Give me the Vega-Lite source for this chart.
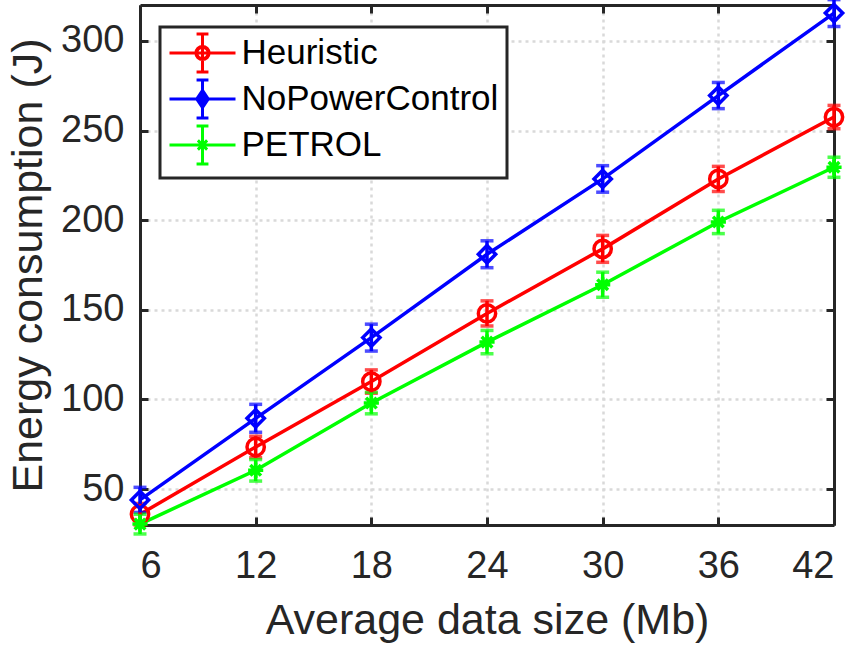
{
  "$schema": "https://vega.github.io/schema/vega-lite/v6.json",
  "width": 694,
  "height": 520,
  "autosize": "none",
  "padding": {"left": 140, "top": 5, "right": 24, "bottom": 122},
  "background": "white",
  "config": {
    "view": {"stroke": null},
    "font": "Liberation Sans",
    "axis": {
      "labelFont": "Liberation Sans",
      "titleFont": "Liberation Sans",
      "labelColor": "#262626",
      "titleColor": "#262626",
      "domainColor": "#262626",
      "tickColor": "#262626",
      "domainWidth": 3,
      "tickWidth": 3,
      "tickSize": -8,
      "gridColor": "#d9d9d9",
      "gridDash": [3, 4],
      "gridWidth": 2.5,
      "labelFontSize": 38,
      "titleFontSize": 43,
      "titleFontWeight": "normal"
    }
  },
  "data": {
    "values": [
      {"x": 6, "series": "Heuristic", "y": 36, "err": 6},
      {"x": 12, "series": "Heuristic", "y": 73.5, "err": 6},
      {"x": 18, "series": "Heuristic", "y": 110, "err": 6.5},
      {"x": 24, "series": "Heuristic", "y": 148, "err": 7},
      {"x": 30, "series": "Heuristic", "y": 184, "err": 7.5},
      {"x": 36, "series": "Heuristic", "y": 223, "err": 7},
      {"x": 42, "series": "Heuristic", "y": 257.5, "err": 6.5},
      {"x": 6, "series": "NoPowerControl", "y": 44, "err": 7},
      {"x": 12, "series": "NoPowerControl", "y": 89.5, "err": 7.8},
      {"x": 18, "series": "NoPowerControl", "y": 134.5, "err": 7.5},
      {"x": 24, "series": "NoPowerControl", "y": 181, "err": 7.5},
      {"x": 30, "series": "NoPowerControl", "y": 223, "err": 7.4},
      {"x": 36, "series": "NoPowerControl", "y": 269.5, "err": 7.3},
      {"x": 42, "series": "NoPowerControl", "y": 315.5, "err": 7.5},
      {"x": 6, "series": "PETROL", "y": 30.5, "err": 5.5},
      {"x": 12, "series": "PETROL", "y": 60.5, "err": 6},
      {"x": 18, "series": "PETROL", "y": 98, "err": 6},
      {"x": 24, "series": "PETROL", "y": 132, "err": 6.5},
      {"x": 30, "series": "PETROL", "y": 164, "err": 7},
      {"x": 36, "series": "PETROL", "y": 199, "err": 6.5},
      {"x": 42, "series": "PETROL", "y": 229.5, "err": 5.6}
    ]
  },
  "encoding": {
    "x": {"field": "x", "type": "quantitative", "scale": {"domain": [6, 42], "nice": false, "zero": false}, "axis": null},
    "y": {"field": "y", "type": "quantitative", "scale": {"domain": [30, 320], "nice": false, "zero": false}, "axis": null},
    "color": {
      "field": "series",
      "type": "nominal",
      "scale": {"domain": ["Heuristic", "NoPowerControl", "PETROL"], "range": ["#ff0000", "#0000ff", "#00ff00"]},
      "legend": {
        "orient": "none",
        "legendX": 20,
        "legendY": 22,
        "title": null,
        "symbolSize": 1089,
        "symbolOffset": 16.5,
        "labelOffset": 21,
        "labelLimit": 0,
        "labelFont": "Liberation Sans",
        "labelFontSize": 35,
        "labelColor": "black",
        "padding": 8,
        "rowPadding": -4,
        "strokeColor": "#262626",
        "fillColor": "white",
        "symbolStrokeWidth": 3,
        "symbolFillColor": "transparent",
        "encode": {"legend": {"update": {"strokeWidth": {"value": 3}}}}
      }
    }
  },
  "layer": [
    {
      "transform": [{"filter": "false"}],
      "mark": {"type": "point", "filled": false, "strokeWidth": 3},
      "encoding": {
        "shape": {
          "field": "series", "type": "nominal",
          "scale": {"domain": ["Heuristic", "NoPowerControl", "PETROL"], "range": [
            "M-2,0L2,0M0,-1.15L0,1.15M-0.36,-1.15L0.36,-1.15M-0.36,1.15L0.36,1.15M0.4,0A0.4,0.4,0,1,1,-0.4,0A0.4,0.4,0,1,1,0.4,0ZM0.34,0A0.34,0.34,0,1,0,-0.34,0A0.34,0.34,0,1,0,0.34,0Z",
            "M-2,0L2,0M0,-1.15L0,1.15M-0.36,-1.15L0.36,-1.15M-0.36,1.15L0.36,1.15M0,-0.52L0.35,0L0,0.52L-0.35,0Z",
            "M-2,0L2,0M0,-1.15L0,1.15M-0.36,-1.15L0.36,-1.15M-0.36,1.15L0.36,1.15M-0.28,-0.28L0.28,0.28M-0.28,0.28L0.28,-0.28M-0.36,0L0.36,0M0,-0.36L0,0.36"
          ]},
          "legend": null
        }
      }
    },
    {
      "mark": {"type": "line", "strokeWidth": 3.5},
      "encoding": {
        "x": {
          "field": "x", "type": "quantitative",
          "axis": {"orient": "bottom", "values": [6, 12, 18, 24, 30, 36, 42], "title": "Average data size (Mb)", "labelPadding": 30, "titlePadding": 14, "grid": true}
        },
        "y": {
          "field": "y", "type": "quantitative",
          "axis": {"orient": "left", "values": [50, 100, 150, 200, 250, 300], "title": "Energy consumption (J)", "labelPadding": 24, "titlePadding": 10, "grid": true}
        }
      }
    },
    {
      "mark": {"type": "errorbar", "ticks": {"size": 13}, "thickness": 3.5},
      "encoding": {
        "yError": {"field": "err"}
      }
    },
    {
      "transform": [{"filter": "datum.series === 'Heuristic'"}],
      "mark": {"type": "point", "filled": false, "strokeWidth": 3.5, "size": 300, "opacity": 1, "shape": "circle"},
      "encoding": {
        "x": {
          "field": "x", "type": "quantitative",
          "axis": {"orient": "top", "values": [6, 12, 18, 24, 30, 36, 42], "labels": false, "title": null, "grid": false}
        },
        "y": {
          "field": "y", "type": "quantitative",
          "axis": {"orient": "right", "values": [50, 100, 150, 200, 250, 300], "labels": false, "title": null, "grid": false}
        }
      }
    },
    {
      "transform": [{"filter": "datum.series === 'NoPowerControl'"}],
      "mark": {"type": "point", "filled": false, "strokeWidth": 3.5, "size": 300, "opacity": 1, "shape": "diamond"}
    },
    {
      "transform": [{"filter": "datum.series === 'PETROL'"}],
      "mark": {"type": "point", "filled": false, "strokeWidth": 3.5, "size": 230, "opacity": 1, "shape": "M-1,0L1,0M0,-1L0,1M-0.7,-0.7L0.7,0.7M-0.7,0.7L0.7,-0.7"}
    }
  ]
}
